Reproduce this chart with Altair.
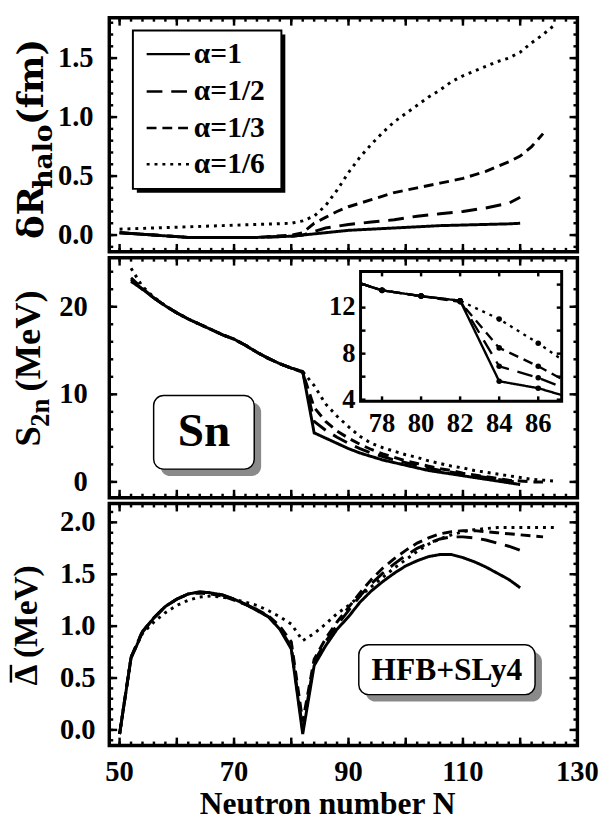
import altair as alt
import pandas as pd

FONT = "Liberation Serif"
TITLE_FONT = "DejaVu Serif"
SERIES = ["α=1", "α=1/2", "α=1/3", "α=1/6"]
DASHES = [[1, 0], [16, 9], [10, 6], [3, 5]]

# ---------------- top panel: delta R_halo (fm) ----------------
DR_N_A = [50, 56, 62, 68, 74, 80, 82, 84, 86, 90, 94, 98, 102, 106, 110, 114, 118, 120]
DR_ALPHA_1 = [0.02, 0.0, -0.02, -0.02, -0.02, -0.01, 0.0, 0.01, 0.02, 0.04, 0.05, 0.06,
              0.07, 0.08, 0.085, 0.09, 0.095, 0.1]
DR_ALPHA_2 = [0.02, 0.0, -0.02, -0.02, -0.02, -0.01, 0.0, 0.03, 0.06, 0.09, 0.11, 0.13,
              0.16, 0.18, 0.2, 0.23, 0.27, 0.32]
DR_N_B = [50, 56, 62, 68, 74, 80, 82, 84, 86, 88, 90, 92, 94, 96, 98, 100, 102, 104, 106,
          108, 110, 112, 114, 116, 118, 120, 122, 124]
DR_ALPHA_3 = [0.02, 0.0, -0.02, -0.02, -0.02, 0.0, 0.02, 0.1, 0.15, 0.2, 0.24, 0.27, 0.3,
              0.33, 0.36, 0.38, 0.4, 0.42, 0.44, 0.46, 0.48, 0.51, 0.54, 0.58, 0.62, 0.67,
              0.75, 0.86]
DR_N_C = [50, 56, 62, 68, 74, 80, 82, 84, 86, 88, 90, 92, 94, 96, 98, 100, 102, 104, 106,
          108, 110, 112, 114, 116, 118, 120, 122, 124, 126]
DR_ALPHA_6 = [0.05, 0.06, 0.07, 0.08, 0.09, 0.1, 0.12, 0.16, 0.25, 0.38, 0.53, 0.66, 0.77,
              0.87, 0.96, 1.03, 1.1, 1.17, 1.23, 1.3, 1.35, 1.39, 1.43, 1.47, 1.5, 1.55,
              1.63, 1.7, 1.78]

# ---------------- middle panel: S2n (MeV) ----------------
S2N_N_1 = [52, 54, 56, 58, 60, 62, 64, 66, 68, 70, 72, 74, 76, 78, 80, 82, 84, 86, 88, 90,
           92, 94, 96, 98, 100, 102, 104, 106, 108, 110, 112, 114, 116, 118, 120]
S2N_ALPHA_1 = [22.9, 22.0, 21.0, 20.1, 19.3, 18.6, 18.0, 17.4, 16.8, 16.3, 15.6, 14.8, 14.1,
               13.5, 13.0, 12.6, 5.6, 5.0, 4.4, 3.8, 3.3, 2.9, 2.5, 2.2, 1.9, 1.6, 1.3, 1.1,
               0.9, 0.7, 0.5, 0.3, 0.1, -0.1, -0.3]
S2N_ALPHA_2 = [23.1, 22.0, 21.0, 20.1, 19.3, 18.6, 18.0, 17.4, 16.8, 16.3, 15.6, 14.8, 14.1,
               13.5, 13.0, 12.6, 6.9, 5.9, 5.1, 4.4, 3.8, 3.3, 2.9, 2.5, 2.2, 1.9, 1.6, 1.3,
               1.1, 0.9, 0.7, 0.5, 0.3, 0.1, -0.1]
S2N_N_3 = S2N_N_1 + [122, 124]
S2N_ALPHA_3 = [23.3, 22.1, 21.0, 20.1, 19.3, 18.6, 18.0, 17.4, 16.8, 16.3, 15.6, 14.8, 14.1,
               13.5, 13.0, 12.5, 8.5, 6.9, 5.8, 5.0, 4.3, 3.7, 3.2, 2.8, 2.4, 2.1, 1.8, 1.5,
               1.3, 1.0, 0.8, 0.6, 0.4, 0.2, 0.1, 0.0, 0.0]
S2N_N_6 = S2N_N_1 + [122, 124, 126]
S2N_ALPHA_6 = [24.4, 22.3, 21.1, 20.1, 19.3, 18.6, 18.0, 17.4, 16.8, 16.3, 15.6, 14.8, 14.1,
               13.5, 13.0, 12.6, 11.0, 8.9, 7.5, 6.3, 5.2, 4.4, 3.9, 3.5, 3.1, 2.8, 2.4, 2.1,
               1.8, 1.6, 1.3, 1.1, 0.9, 0.7, 0.5, 0.3, 0.2, 0.1]

# ---------------- bottom panel: mean gap (MeV) ----------------
GAP_N_1 = [50] + S2N_N_1
GAP_ALPHA_1 = [-0.04, 0.69, 0.94, 1.08, 1.19, 1.26, 1.31, 1.33, 1.32, 1.3, 1.26, 1.21, 1.15,
               1.09, 0.97, 0.78, -0.04, 0.62, 0.81, 0.97, 1.09, 1.23, 1.34, 1.43, 1.51, 1.58,
               1.63, 1.67, 1.69, 1.69, 1.66, 1.62, 1.57, 1.51, 1.45, 1.37]
GAP_ALPHA_2 = [-0.04, 0.7, 0.95, 1.08, 1.19, 1.26, 1.31, 1.33, 1.32, 1.3, 1.26, 1.21, 1.16,
               1.09, 0.98, 0.8, 0.0, 0.66, 0.85, 1.01, 1.15, 1.29, 1.41, 1.51, 1.6, 1.68,
               1.75, 1.8, 1.84, 1.86, 1.86, 1.85, 1.83, 1.8, 1.77, 1.73]
GAP_N_3 = [50] + S2N_N_3
GAP_ALPHA_3 = [-0.04, 0.7, 0.95, 1.08, 1.19, 1.26, 1.31, 1.32, 1.31, 1.29, 1.25, 1.21, 1.16,
               1.1, 1.0, 0.85, 0.08, 0.68, 0.88, 1.04, 1.18, 1.32, 1.45, 1.56, 1.65, 1.73,
               1.8, 1.85, 1.89, 1.91, 1.92, 1.92, 1.91, 1.9, 1.89, 1.88, 1.87, 1.86]
GAP_N_6 = [50] + S2N_N_6
GAP_ALPHA_6 = [-0.04, 0.7, 0.93, 1.04, 1.13, 1.2, 1.25, 1.28, 1.29, 1.28, 1.26, 1.23, 1.2,
               1.15, 1.09, 1.02, 0.86, 0.93, 1.02, 1.12, 1.2, 1.29, 1.38, 1.47, 1.56, 1.64,
               1.72, 1.79, 1.84, 1.88, 1.91, 1.93, 1.94, 1.95, 1.95, 1.95, 1.95, 1.95, 1.95]

# tick values and tick labels
X_MAJOR = [50, 60, 70, 80, 90, 100, 110, 120, 130]
X_MINOR = list(range(50, 131, 2))
X_LABELS = [50, 70, 90, 110, 130]
TOP_MAJOR = [0.0, 0.5, 1.0, 1.5]
TOP_MINOR = [round(i * 0.1, 1) for i in range(-1, 19)]
MID_MAJOR = [0, 10, 20]
MID_MINOR = list(range(0, 26, 2))
BOT_MAJOR = [0.0, 0.5, 1.0, 1.5, 2.0]
BOT_MINOR = [round(i * 0.1, 1) for i in range(-1, 22)]
INSET_XT = [78, 80, 82, 84, 86]
INSET_YT = [4, 6, 8, 10, 12, 14]
INSET_XLAB = [78, 80, 82, 84, 86]
INSET_YLAB = [4, 8, 12]
INSET_PTS = [78, 80, 82, 84, 86]

# ---------------- layout constants ----------------
W = 476
H_TOP, H_MID, H_BOT = 238, 244, 246
X_DOMAIN = [48.2, 130.0]
Y_TOP = [-0.142, 1.842]
Y_MID = [-1.8, 25.6]
Y_BOT = [-0.15, 2.181]
INSET_XD = [76.9, 87.2]
INSET_YD = [3.86, 15.14]
INSET_XR = [255.5, 460]
INSET_YR = [146, 14]

ONE = pd.DataFrame({"k": [0]})
DASH_SCALE = alt.Scale(domain=SERIES, range=DASHES)
BOLD = dict(font=FONT, fontWeight="bold", color="black")


def long_df(ns_list, vs_list):
    rows = []
    for s, ns, vs in zip(SERIES, ns_list, vs_list):
        for n, v in zip(ns, vs):
            rows.append({"N": n, "v": v, "s": s})
    return pd.DataFrame(rows)


df_dr = long_df([DR_N_A, DR_N_A, DR_N_B, DR_N_C], [DR_ALPHA_1, DR_ALPHA_2, DR_ALPHA_3, DR_ALPHA_6])
df_s2n = long_df([S2N_N_1, S2N_N_1, S2N_N_3, S2N_N_6],
                 [S2N_ALPHA_1, S2N_ALPHA_2, S2N_ALPHA_3, S2N_ALPHA_6])
df_gap = long_df([GAP_N_1, GAP_N_1, GAP_N_3, GAP_N_6],
                 [GAP_ALPHA_1, GAP_ALPHA_2, GAP_ALPHA_3, GAP_ALPHA_6])
df_inset = df_s2n[(df_s2n.N >= 76) & (df_s2n.N <= 88)]
df_inset_pts = df_s2n[df_s2n.N.isin(INSET_PTS)]


def lines(df, xs, ys, sw=3.0, clip=True):
    return alt.Chart(df).mark_line(color="black", strokeWidth=sw, clip=clip).encode(
        x=alt.X("N:Q", scale=xs, axis=None),
        y=alt.Y("v:Q", scale=ys, axis=None),
        strokeDash=alt.StrokeDash("s:N", scale=DASH_SCALE, legend=None),
    )


def edge_ticks(xs, ys, sets, x0, x1, ybot, ytop, sw=2.5):
    out = []
    for xv, yv, L in sets:
        dx = pd.DataFrame({"t": xv})
        dy = pd.DataFrame({"t": yv})
        ry = alt.Chart(dy).mark_rule(color="black", strokeWidth=sw)
        out.append(ry.encode(y=alt.Y("t:Q", scale=ys, axis=None), x=alt.value(x0), x2=alt.value(x0 + L)))
        out.append(ry.encode(y=alt.Y("t:Q", scale=ys, axis=None), x=alt.value(x1 - L), x2=alt.value(x1)))
        rx = alt.Chart(dx).mark_rule(color="black", strokeWidth=sw)
        out.append(rx.encode(x=alt.X("t:Q", scale=xs, axis=None), y=alt.value(ybot - L), y2=alt.value(ybot)))
        out.append(rx.encode(x=alt.X("t:Q", scale=xs, axis=None), y=alt.value(ytop), y2=alt.value(ytop + L)))
    return out


def ylabels(values, ys, fmt, xpos, size=29):
    df = pd.DataFrame({"t": values, "lab": [fmt.format(v) for v in values]})
    return alt.Chart(df).mark_text(align="right", baseline="middle", fontSize=size, **BOLD).encode(
        y=alt.Y("t:Q", scale=ys, axis=None), x=alt.value(xpos), text="lab:N")


def xlabels(values, xs, ypos, size=29):
    df = pd.DataFrame({"t": values, "lab": [str(v) for v in values]})
    return alt.Chart(df).mark_text(align="center", baseline="middle", fontSize=size, **BOLD).encode(
        x=alt.X("t:Q", scale=xs, axis=None), y=alt.value(ypos), text="lab:N")


def vtext(txt, x, y, size, font=FONT):
    return alt.Chart(ONE).mark_text(
        text=txt, angle=270, align="left", baseline="alphabetic", fontSize=size, font=font,
        fontWeight="bold", color="black").encode(x=alt.value(x), y=alt.value(y))


def boxed_label(xs, ys, box, text, size):
    bdf = pd.DataFrame([box])
    enc = dict(x=alt.X("x0:Q", scale=xs, axis=None), x2="x1:Q",
               y=alt.Y("y0:Q", scale=ys, axis=None), y2="y1:Q")
    shadow = alt.Chart(bdf).mark_rect(cornerRadius=10, color="#8a8a8a", xOffset=7, x2Offset=7,
                                      yOffset=7, y2Offset=7).encode(**enc)
    frame = alt.Chart(bdf).mark_rect(cornerRadius=10, fill="white", stroke="black",
                                     strokeWidth=1.5).encode(**enc)
    tdf = pd.DataFrame({"cx": [(box["x0"] + box["x1"]) / 2], "cy": [(box["y0"] + box["y1"]) / 2]})
    label = alt.Chart(tdf).mark_text(text=text, fontSize=size, align="center", baseline="middle",
                                     **BOLD).encode(
        x=alt.X("cx:Q", scale=xs, axis=None), y=alt.Y("cy:Q", scale=ys, axis=None))
    return [shadow, frame, label]


xs = alt.Scale(domain=X_DOMAIN, nice=False, zero=False)

# ---------------- top ----------------
ys_top = alt.Scale(domain=Y_TOP, nice=False, zero=False)
top_layers = [lines(df_dr, xs, ys_top)]
top_layers += edge_ticks(xs, ys_top, [(X_MAJOR, TOP_MAJOR, 8), (X_MINOR, TOP_MINOR, 4)], 0, W, H_TOP, 0)
top_layers.append(ylabels(TOP_MAJOR, ys_top, "{:.1f}", -16))
# legend box
top_layers.append(alt.Chart(ONE).mark_rect(color="black").encode(
    x=alt.value(28), x2=alt.value(179), y=alt.value(17), y2=alt.value(178)))
top_layers.append(alt.Chart(ONE).mark_rect(fill="white", stroke="black", strokeWidth=2).encode(
    x=alt.value(24), x2=alt.value(175), y=alt.value(13), y2=alt.value(174)))
LEG_ROWS = [37, 75, 112, 149]
for s, d, ry in zip(SERIES, DASHES, LEG_ROWS):
    top_layers.append(alt.Chart(ONE).mark_rule(color="black", strokeWidth=2.5, strokeDash=d).encode(
        x=alt.value(38), x2=alt.value(82), y=alt.value(ry)))
    top_layers.append(alt.Chart(ONE).mark_text(text=s, fontSize=30, align="left",
                                               baseline="middle", **BOLD).encode(
        x=alt.value(86), y=alt.value(ry)))
# y title: delta R_halo (fm)
top_layers += [vtext("δR", -67, 225, 36, TITLE_FONT), vtext("halo", -58, 174, 27, TITLE_FONT),
               vtext("(fm)", -67, 109, 36, TITLE_FONT)]
top = alt.layer(*top_layers).properties(width=W, height=H_TOP)

# ---------------- middle ----------------
ys_mid = alt.Scale(domain=Y_MID, nice=False, zero=False)
mid_main = [lines(df_s2n, xs, ys_mid)]
mid_main += edge_ticks(xs, ys_mid, [(X_MAJOR, MID_MAJOR, 8), (X_MINOR, MID_MINOR, 4)], 0, W, H_MID, 0)
mid_main.append(ylabels(MID_MAJOR, ys_mid, "{:d}", -22))
SN_BOX = {"x0": 55.95, "x1": 73.53, "y0": 9.86, "y1": 1.46}
mid_main += boxed_label(xs, ys_mid, SN_BOX, "Sn", 48)
mid_main += [vtext("S", -70, 192, 37), vtext("2n", -61, 172, 27), vtext("(MeV)", -70, 136, 37)]

xs_in = alt.Scale(domain=INSET_XD, range=INSET_XR, nice=False, zero=False, clamp=True)
ys_in = alt.Scale(domain=INSET_YD, range=INSET_YR, nice=False, zero=False)
inset = [alt.Chart(ONE).mark_rect(fill="white", stroke="black", strokeWidth=3).encode(
    x=alt.value(INSET_XR[0]), x2=alt.value(INSET_XR[1]), y=alt.value(INSET_YR[1]), y2=alt.value(INSET_YR[0]))]
inset.append(lines(df_inset, xs_in, ys_in, sw=2.4, clip=False))
inset.append(alt.Chart(df_inset_pts).mark_circle(color="black", size=32, opacity=1).encode(
    x=alt.X("N:Q", scale=xs_in, axis=None), y=alt.Y("v:Q", scale=ys_in, axis=None)))
inset += edge_ticks(xs_in, ys_in, [(INSET_XT, INSET_YT, 5)], INSET_XR[0], INSET_XR[1],
                    INSET_YR[0], INSET_YR[1])
inset.append(ylabels(INSET_YLAB, ys_in, "{:d}", INSET_XR[0] - 5, size=27))
inset.append(xlabels(INSET_XLAB, xs_in, INSET_YR[0] + 23, size=27))
mid = alt.layer(alt.layer(*mid_main), alt.layer(*inset)).resolve_scale(
    x="independent", y="independent").properties(width=W, height=H_MID)

# ---------------- bottom ----------------
ys_bot = alt.Scale(domain=Y_BOT, nice=False, zero=False)
bot_layers = [lines(df_gap, xs, ys_bot)]
bot_layers += edge_ticks(xs, ys_bot, [(X_MAJOR, BOT_MAJOR, 8), (X_MINOR, BOT_MINOR, 4)], 0, W, H_BOT, 0)
bot_layers.append(ylabels(BOT_MAJOR, ys_bot, "{:.1f}", -14))
bot_layers.append(xlabels(X_LABELS, xs, H_BOT + 27))
bot_layers.append(alt.Chart(ONE).mark_text(text="Neutron number N", fontSize=32, align="center",
                                           baseline="alphabetic", **BOLD).encode(
    x=alt.value(222), y=alt.value(H_BOT + 70)))
HFB_BOX = {"x0": 91.8, "x1": 122.6, "y0": 0.82, "y1": 0.34}
bot_layers += boxed_label(xs, ys_bot, HFB_BOX, "HFB+SLy4", 32)
bot_layers.append(vtext("Δ (MeV)", -74, 185, 34))
bot_layers.append(alt.Chart(ONE).mark_rule(color="black", strokeWidth=2.5).encode(
    x=alt.value(-100), y=alt.value(164), y2=alt.value(182)))
bot = alt.layer(*bot_layers).properties(width=W, height=H_BOT)

chart = alt.vconcat(top, mid, bot, spacing=0).properties(
    padding={"left": 0, "top": 0, "right": 0, "bottom": 0}
).configure_view(stroke="black", strokeWidth=3.5)

chart.save("out.html", embed_options={"renderer": "svg", "actions": False})
